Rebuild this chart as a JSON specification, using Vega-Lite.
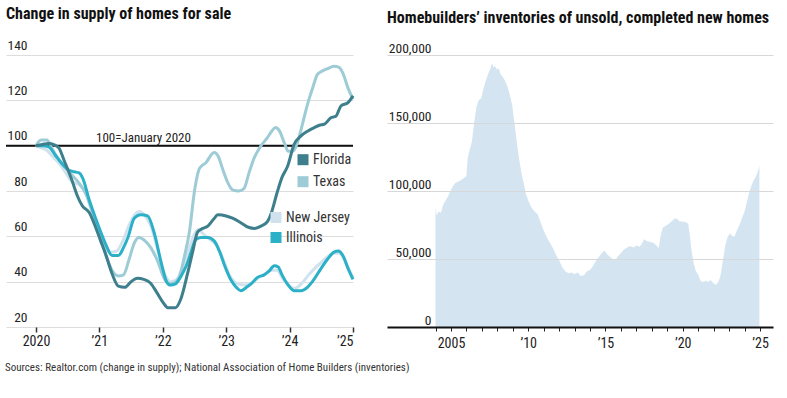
{
  "$schema": "https://vega.github.io/schema/vega-lite/v6.json",
  "background": "white",
  "padding": {"left": 5, "top": 6, "right": 15, "bottom": 10},
  "bounds": "flush",
  "spacing": 34,
  "title": {"text": "Sources: Realtor.com (change in supply); National Association of Home Builders (inventories)", "orient": "bottom", "anchor": "start", "fontSize": 11, "fontWeight": "normal", "font": "Liberation Sans Narrow, Roboto Condensed, DejaVu Sans Condensed, sans-serif", "color": "#333", "offset": 12},
  "config": {"view": {"stroke": null}, "font": "Liberation Sans Narrow, Roboto Condensed, DejaVu Sans Condensed, sans-serif"},
  "datasets": {
    "supply": [
      {"s":"Florida","t":2020.0,"v":100},{"s":"Florida","t":2020.1,"v":100.5},{"s":"Florida","t":2020.2,"v":101},{"s":"Florida","t":2020.28,"v":100.5},{"s":"Florida","t":2020.36,"v":99},{"s":"Florida","t":2020.45,"v":93},{"s":"Florida","t":2020.57,"v":84.5},{"s":"Florida","t":2020.65,"v":78},{"s":"Florida","t":2020.73,"v":73.5},{"s":"Florida","t":2020.84,"v":70.5},{"s":"Florida","t":2020.94,"v":64},{"s":"Florida","t":2021.02,"v":58},{"s":"Florida","t":2021.1,"v":52},{"s":"Florida","t":2021.2,"v":43.5},{"s":"Florida","t":2021.3,"v":38},{"s":"Florida","t":2021.4,"v":37.5},{"s":"Florida","t":2021.5,"v":40},{"s":"Florida","t":2021.6,"v":41.5},{"s":"Florida","t":2021.7,"v":41},{"s":"Florida","t":2021.8,"v":39.5},{"s":"Florida","t":2021.9,"v":35.5},{"s":"Florida","t":2022.0,"v":31},{"s":"Florida","t":2022.08,"v":28.5},{"s":"Florida","t":2022.2,"v":28.5},{"s":"Florida","t":2022.28,"v":32},{"s":"Florida","t":2022.39,"v":43.5},{"s":"Florida","t":2022.47,"v":53},{"s":"Florida","t":2022.55,"v":62},{"s":"Florida","t":2022.63,"v":63.5},{"s":"Florida","t":2022.71,"v":64.5},{"s":"Florida","t":2022.8,"v":67.5},{"s":"Florida","t":2022.87,"v":69.5},{"s":"Florida","t":2023.0,"v":69},{"s":"Florida","t":2023.1,"v":68},{"s":"Florida","t":2023.23,"v":66},{"s":"Florida","t":2023.35,"v":64},{"s":"Florida","t":2023.45,"v":63.5},{"s":"Florida","t":2023.55,"v":64.5},{"s":"Florida","t":2023.65,"v":66.5},{"s":"Florida","t":2023.72,"v":71},{"s":"Florida","t":2023.8,"v":79},{"s":"Florida","t":2023.88,"v":86},{"s":"Florida","t":2023.97,"v":91},{"s":"Florida","t":2024.07,"v":100.5},{"s":"Florida","t":2024.18,"v":104.3},{"s":"Florida","t":2024.29,"v":106.5},{"s":"Florida","t":2024.39,"v":108},{"s":"Florida","t":2024.47,"v":109},{"s":"Florida","t":2024.55,"v":109.5},{"s":"Florida","t":2024.65,"v":112.3},{"s":"Florida","t":2024.73,"v":113},{"s":"Florida","t":2024.81,"v":117.5},{"s":"Florida","t":2024.92,"v":119},{"s":"Florida","t":2025.0,"v":122},
      {"s":"Texas","t":2020.0,"v":100},{"s":"Texas","t":2020.08,"v":102.5},{"s":"Texas","t":2020.17,"v":102.5},{"s":"Texas","t":2020.25,"v":99},{"s":"Texas","t":2020.33,"v":95},{"s":"Texas","t":2020.45,"v":91},{"s":"Texas","t":2020.57,"v":87},{"s":"Texas","t":2020.68,"v":83.5},{"s":"Texas","t":2020.8,"v":78},{"s":"Texas","t":2020.9,"v":70},{"s":"Texas","t":2021.0,"v":61},{"s":"Texas","t":2021.1,"v":52},{"s":"Texas","t":2021.2,"v":45},{"s":"Texas","t":2021.3,"v":42.5},{"s":"Texas","t":2021.38,"v":43},{"s":"Texas","t":2021.47,"v":50},{"s":"Texas","t":2021.55,"v":57},{"s":"Texas","t":2021.62,"v":59.5},{"s":"Texas","t":2021.72,"v":58},{"s":"Texas","t":2021.81,"v":55},{"s":"Texas","t":2021.92,"v":49},{"s":"Texas","t":2022.02,"v":41.5},{"s":"Texas","t":2022.1,"v":39},{"s":"Texas","t":2022.18,"v":39.5},{"s":"Texas","t":2022.26,"v":42},{"s":"Texas","t":2022.34,"v":51},{"s":"Texas","t":2022.42,"v":62},{"s":"Texas","t":2022.5,"v":80},{"s":"Texas","t":2022.58,"v":90},{"s":"Texas","t":2022.68,"v":92.5},{"s":"Texas","t":2022.81,"v":97},{"s":"Texas","t":2022.88,"v":95},{"s":"Texas","t":2022.94,"v":90},{"s":"Texas","t":2023.02,"v":84},{"s":"Texas","t":2023.1,"v":80.5},{"s":"Texas","t":2023.2,"v":80},{"s":"Texas","t":2023.28,"v":81},{"s":"Texas","t":2023.36,"v":88},{"s":"Texas","t":2023.44,"v":94.5},{"s":"Texas","t":2023.55,"v":100},{"s":"Texas","t":2023.65,"v":103.5},{"s":"Texas","t":2023.72,"v":106.5},{"s":"Texas","t":2023.78,"v":108},{"s":"Texas","t":2023.84,"v":106.5},{"s":"Texas","t":2023.92,"v":101},{"s":"Texas","t":2023.98,"v":97.5},{"s":"Texas","t":2024.05,"v":97.5},{"s":"Texas","t":2024.12,"v":101},{"s":"Texas","t":2024.18,"v":107},{"s":"Texas","t":2024.29,"v":119},{"s":"Texas","t":2024.37,"v":126},{"s":"Texas","t":2024.44,"v":131.5},{"s":"Texas","t":2024.52,"v":133},{"s":"Texas","t":2024.6,"v":134},{"s":"Texas","t":2024.7,"v":135},{"s":"Texas","t":2024.78,"v":134.5},{"s":"Texas","t":2024.84,"v":132},{"s":"Texas","t":2024.92,"v":125.5},{"s":"Texas","t":2025.0,"v":120.5},
      {"s":"Illinois","t":2020.0,"v":100},{"s":"Illinois","t":2020.1,"v":100},{"s":"Illinois","t":2020.2,"v":99.5},{"s":"Illinois","t":2020.3,"v":96},{"s":"Illinois","t":2020.41,"v":92},{"s":"Illinois","t":2020.5,"v":89.5},{"s":"Illinois","t":2020.6,"v":88.5},{"s":"Illinois","t":2020.68,"v":88},{"s":"Illinois","t":2020.74,"v":85.5},{"s":"Illinois","t":2020.84,"v":76},{"s":"Illinois","t":2020.94,"v":68},{"s":"Illinois","t":2021.02,"v":62},{"s":"Illinois","t":2021.1,"v":56.5},{"s":"Illinois","t":2021.2,"v":51.5},{"s":"Illinois","t":2021.3,"v":51.5},{"s":"Illinois","t":2021.38,"v":55},{"s":"Illinois","t":2021.45,"v":59.5},{"s":"Illinois","t":2021.55,"v":68},{"s":"Illinois","t":2021.65,"v":69.5},{"s":"Illinois","t":2021.76,"v":69},{"s":"Illinois","t":2021.87,"v":61},{"s":"Illinois","t":2021.97,"v":49},{"s":"Illinois","t":2022.06,"v":40},{"s":"Illinois","t":2022.12,"v":38.5},{"s":"Illinois","t":2022.2,"v":39},{"s":"Illinois","t":2022.29,"v":42.5},{"s":"Illinois","t":2022.37,"v":47},{"s":"Illinois","t":2022.44,"v":52.5},{"s":"Illinois","t":2022.52,"v":58.5},{"s":"Illinois","t":2022.6,"v":59.5},{"s":"Illinois","t":2022.71,"v":59.5},{"s":"Illinois","t":2022.81,"v":58},{"s":"Illinois","t":2022.9,"v":53},{"s":"Illinois","t":2022.97,"v":47.5},{"s":"Illinois","t":2023.08,"v":40.5},{"s":"Illinois","t":2023.16,"v":37.5},{"s":"Illinois","t":2023.23,"v":36},{"s":"Illinois","t":2023.32,"v":37.5},{"s":"Illinois","t":2023.41,"v":39.5},{"s":"Illinois","t":2023.5,"v":42},{"s":"Illinois","t":2023.6,"v":43},{"s":"Illinois","t":2023.67,"v":44.5},{"s":"Illinois","t":2023.76,"v":47},{"s":"Illinois","t":2023.82,"v":46.5},{"s":"Illinois","t":2023.88,"v":43},{"s":"Illinois","t":2023.97,"v":38.8},{"s":"Illinois","t":2024.07,"v":36},{"s":"Illinois","t":2024.18,"v":36},{"s":"Illinois","t":2024.28,"v":37.5},{"s":"Illinois","t":2024.36,"v":40},{"s":"Illinois","t":2024.5,"v":46},{"s":"Illinois","t":2024.6,"v":50},{"s":"Illinois","t":2024.7,"v":53},{"s":"Illinois","t":2024.77,"v":53.5},{"s":"Illinois","t":2024.84,"v":51.5},{"s":"Illinois","t":2024.92,"v":46},{"s":"Illinois","t":2025.0,"v":41},
      {"s":"New Jersey","t":2020.0,"v":100},{"s":"New Jersey","t":2020.08,"v":99},{"s":"New Jersey","t":2020.17,"v":98},{"s":"New Jersey","t":2020.27,"v":95},{"s":"New Jersey","t":2020.37,"v":92},{"s":"New Jersey","t":2020.47,"v":88},{"s":"New Jersey","t":2020.57,"v":84},{"s":"New Jersey","t":2020.67,"v":83},{"s":"New Jersey","t":2020.77,"v":80},{"s":"New Jersey","t":2020.87,"v":72},{"s":"New Jersey","t":2020.97,"v":63},{"s":"New Jersey","t":2021.07,"v":56},{"s":"New Jersey","t":2021.17,"v":53},{"s":"New Jersey","t":2021.27,"v":53.5},{"s":"New Jersey","t":2021.37,"v":58},{"s":"New Jersey","t":2021.47,"v":65},{"s":"New Jersey","t":2021.57,"v":70},{"s":"New Jersey","t":2021.63,"v":71},{"s":"New Jersey","t":2021.72,"v":69},{"s":"New Jersey","t":2021.82,"v":64},{"s":"New Jersey","t":2021.92,"v":54},{"s":"New Jersey","t":2022.02,"v":44},{"s":"New Jersey","t":2022.12,"v":40},{"s":"New Jersey","t":2022.22,"v":41},{"s":"New Jersey","t":2022.32,"v":47},{"s":"New Jersey","t":2022.42,"v":55},{"s":"New Jersey","t":2022.5,"v":61},{"s":"New Jersey","t":2022.56,"v":63},{"s":"New Jersey","t":2022.64,"v":61},{"s":"New Jersey","t":2022.75,"v":58.5},{"s":"New Jersey","t":2022.85,"v":56},{"s":"New Jersey","t":2022.95,"v":50},{"s":"New Jersey","t":2023.05,"v":43},{"s":"New Jersey","t":2023.15,"v":39.5},{"s":"New Jersey","t":2023.28,"v":38.5},{"s":"New Jersey","t":2023.38,"v":39},{"s":"New Jersey","t":2023.5,"v":41.5},{"s":"New Jersey","t":2023.62,"v":43.5},{"s":"New Jersey","t":2023.72,"v":45},{"s":"New Jersey","t":2023.8,"v":45},{"s":"New Jersey","t":2023.9,"v":41},{"s":"New Jersey","t":2024.0,"v":38},{"s":"New Jersey","t":2024.08,"v":37},{"s":"New Jersey","t":2024.2,"v":39.5},{"s":"New Jersey","t":2024.3,"v":43},{"s":"New Jersey","t":2024.4,"v":46},{"s":"New Jersey","t":2024.5,"v":48.5},{"s":"New Jersey","t":2024.6,"v":51},{"s":"New Jersey","t":2024.7,"v":52.5},{"s":"New Jersey","t":2024.78,"v":52.5},{"s":"New Jersey","t":2024.86,"v":50},{"s":"New Jersey","t":2024.94,"v":45},{"s":"New Jersey","t":2025.0,"v":42}
    ],
    "inventory": [
      {"t":2004.0,"v":88000},{"t":2004.08,"v":82000},{"t":2004.2,"v":85000},{"t":2004.35,"v":84000},{"t":2004.5,"v":90000},{"t":2004.65,"v":93000},{"t":2004.8,"v":96000},{"t":2005.0,"v":101000},{"t":2005.15,"v":104000},{"t":2005.3,"v":106000},{"t":2005.5,"v":107000},{"t":2005.7,"v":108500},{"t":2005.9,"v":110000},{"t":2006.0,"v":111000},{"t":2006.08,"v":124000},{"t":2006.2,"v":130000},{"t":2006.35,"v":136000},{"t":2006.5,"v":150000},{"t":2006.65,"v":162000},{"t":2006.8,"v":167000},{"t":2006.95,"v":168000},{"t":2007.1,"v":175000},{"t":2007.25,"v":181000},{"t":2007.4,"v":186000},{"t":2007.55,"v":190000},{"t":2007.65,"v":194000},{"t":2007.75,"v":191000},{"t":2007.85,"v":192000},{"t":2007.95,"v":189500},{"t":2008.1,"v":190000},{"t":2008.2,"v":186000},{"t":2008.35,"v":184000},{"t":2008.5,"v":181000},{"t":2008.65,"v":177000},{"t":2008.8,"v":171000},{"t":2008.95,"v":164000},{"t":2009.1,"v":151000},{"t":2009.25,"v":137000},{"t":2009.4,"v":124000},{"t":2009.55,"v":114000},{"t":2009.7,"v":106000},{"t":2009.85,"v":98000},{"t":2010.0,"v":93000},{"t":2010.2,"v":88000},{"t":2010.4,"v":85000},{"t":2010.6,"v":83000},{"t":2010.8,"v":77000},{"t":2011.0,"v":71000},{"t":2011.2,"v":66000},{"t":2011.4,"v":62000},{"t":2011.6,"v":58000},{"t":2011.8,"v":53000},{"t":2012.0,"v":49000},{"t":2012.2,"v":44000},{"t":2012.4,"v":41000},{"t":2012.6,"v":39500},{"t":2012.8,"v":40000},{"t":2013.0,"v":39000},{"t":2013.2,"v":40000},{"t":2013.4,"v":37500},{"t":2013.6,"v":38000},{"t":2013.8,"v":41000},{"t":2014.0,"v":42000},{"t":2014.2,"v":45000},{"t":2014.4,"v":49000},{"t":2014.6,"v":52000},{"t":2014.8,"v":55000},{"t":2014.95,"v":56000},{"t":2015.1,"v":53500},{"t":2015.3,"v":51500},{"t":2015.5,"v":49500},{"t":2015.65,"v":49000},{"t":2015.8,"v":52000},{"t":2016.0,"v":54500},{"t":2016.2,"v":57000},{"t":2016.4,"v":58500},{"t":2016.6,"v":59500},{"t":2016.8,"v":58500},{"t":2017.0,"v":60000},{"t":2017.2,"v":59000},{"t":2017.35,"v":61000},{"t":2017.5,"v":64500},{"t":2017.7,"v":63000},{"t":2017.9,"v":62500},{"t":2018.1,"v":62000},{"t":2018.3,"v":60000},{"t":2018.45,"v":58000},{"t":2018.55,"v":66000},{"t":2018.7,"v":73000},{"t":2018.9,"v":74500},{"t":2019.1,"v":76000},{"t":2019.3,"v":78000},{"t":2019.5,"v":80000},{"t":2019.65,"v":79500},{"t":2019.8,"v":77500},{"t":2020.0,"v":77500},{"t":2020.2,"v":77000},{"t":2020.35,"v":76000},{"t":2020.45,"v":68000},{"t":2020.55,"v":58000},{"t":2020.7,"v":47000},{"t":2020.85,"v":41000},{"t":2021.0,"v":38500},{"t":2021.15,"v":34000},{"t":2021.3,"v":33000},{"t":2021.5,"v":34000},{"t":2021.65,"v":33000},{"t":2021.8,"v":34500},{"t":2022.0,"v":32000},{"t":2022.15,"v":31000},{"t":2022.3,"v":33000},{"t":2022.45,"v":38000},{"t":2022.6,"v":49000},{"t":2022.75,"v":60000},{"t":2022.9,"v":66000},{"t":2023.05,"v":69000},{"t":2023.2,"v":67000},{"t":2023.35,"v":66500},{"t":2023.5,"v":71000},{"t":2023.65,"v":74500},{"t":2023.8,"v":79000},{"t":2024.0,"v":85000},{"t":2024.15,"v":92000},{"t":2024.3,"v":99000},{"t":2024.45,"v":104000},{"t":2024.6,"v":108000},{"t":2024.75,"v":111000},{"t":2024.85,"v":114000},{"t":2024.96,"v":118500}
    ]
  },
  "hconcat": [
    {
      "width": 347,
      "height": 272,
      "title": {"text": "Change in supply of homes for sale", "anchor": "start", "frame": "group", "fontSize": 16, "fontWeight": "bold", "color": "#111", "offset": 16},
      "layer": [
        {
          "data": {"values": [{}]},
          "mark": {"type": "rule", "color": "#111", "strokeWidth": 2},
          "encoding": {"y": {"datum": 100, "type": "quantitative"}}
        },
        {
          "data": {"name": "supply"},
          "transform": [{"filter": "datum.s == 'New Jersey'"}],
          "mark": {"type": "line", "strokeWidth": 3, "interpolate": "monotone"},
          "encoding": {
            "x": {"field": "t", "type": "quantitative", "scale": {"domain": [2019.527, 2025], "nice": false, "zero": false},
              "axis": {"title": null, "values": [2020, 2021, 2022, 2023, 2024, 2025], "labelExpr": "datum.value == 2020 ? '2020' : '’' + substring(toString(datum.value), 2)", "grid": false, "domain": false, "ticks": true, "tickSize": 5, "tickColor": "#333", "tickWidth": 1.5, "labelPadding": 2, "labelFontSize": 14, "labelColor": "#222"}},
            "y": {"field": "v", "type": "quantitative", "scale": {"domain": [20, 140], "nice": false, "zero": false},
              "axis": {"title": null, "values": [20, 40, 60, 80, 100, 120, 140], "grid": true, "gridColor": "#dddddd", "domain": false, "ticks": false, "tickSize": 0, "labelAlign": "right", "labelPadding": -21, "labelBaseline": "alphabetic", "labelOffset": -6, "labelFontSize": 13.5, "labelColor": "#222"}},
            "stroke": {"field": "s", "type": "nominal", "scale": {"domain": ["New Jersey", "Illinois"], "range": ["#cfe2ee", "#2bb0c8"]},
              "legend": {"title": null, "orient": "none", "legendX": 263, "legendY": 155.5, "symbolType": "square", "symbolSize": 121, "labelFontSize": 14, "labelColor": "#333", "labelOffset": 3, "rowPadding": 6,
                "encode": {"symbols": {"update": {"fill": {"scale": "stroke", "field": "value"}, "stroke": {"value": "transparent"}, "strokeWidth": {"value": 0}, "shape": {"value": "square"}, "size": {"value": 121}}}}}}
          }
        },
        {
          "data": {"name": "supply"},
          "transform": [{"filter": "datum.s == 'Texas'"}],
          "mark": {"type": "line", "strokeWidth": 3, "interpolate": "monotone"},
          "encoding": {
            "x": {"field": "t", "type": "quantitative"},
            "y": {"field": "v", "type": "quantitative"},
            "color": {"field": "s", "type": "nominal", "scale": {"domain": ["Florida", "Texas"], "range": ["#3d7f8c", "#9dcbd6"]},
              "legend": {"title": null, "orient": "none", "legendX": 290, "legendY": 97.7, "symbolType": "square", "symbolSize": 121, "labelFontSize": 14, "labelColor": "#333", "labelOffset": 3, "rowPadding": 8,
                "encode": {"symbols": {"update": {"fill": {"scale": "color", "field": "value"}, "stroke": {"value": "transparent"}, "strokeWidth": {"value": 0}, "shape": {"value": "square"}, "size": {"value": 121}}}}}}
          }
        },
        {
          "data": {"name": "supply"},
          "transform": [{"filter": "datum.s == 'Illinois'"}],
          "mark": {"type": "line", "strokeWidth": 3, "interpolate": "monotone"},
          "encoding": {
            "x": {"field": "t", "type": "quantitative"},
            "y": {"field": "v", "type": "quantitative"},
            "stroke": {"field": "s", "type": "nominal"}
          }
        },
        {
          "data": {"name": "supply"},
          "transform": [{"filter": "datum.s == 'Florida'"}],
          "mark": {"type": "line", "strokeWidth": 3, "interpolate": "monotone"},
          "encoding": {
            "x": {"field": "t", "type": "quantitative"},
            "y": {"field": "v", "type": "quantitative"},
            "color": {"field": "s", "type": "nominal"}
          }
        },
        {
          "data": {"values": [{"label": "100=January 2020"}]},
          "mark": {"type": "text", "align": "left", "baseline": "alphabetic", "dy": -4, "fontSize": 13, "color": "#222"},
          "encoding": {
            "x": {"datum": 2020.946, "type": "quantitative"},
            "y": {"datum": 100, "type": "quantitative"},
            "text": {"field": "label"}
          }
        }
      ]
    },
    {
      "width": 386,
      "height": 272,
      "title": {"text": "Homebuilders’ inventories of unsold, completed new homes", "anchor": "start", "frame": "group", "fontSize": 16, "fontWeight": "bold", "color": "#111", "offset": 16},
      "data": {"name": "inventory"},
      "mark": {"type": "area", "color": "#d4e5f1", "interpolate": "linear"},
      "encoding": {
        "x": {"field": "t", "type": "quantitative", "scale": {"domain": [2000.86, 2025.84], "nice": false, "zero": false},
          "axis": {"title": null, "values": [2004, 2005, 2006, 2007, 2008, 2009, 2010, 2011, 2012, 2013, 2014, 2015, 2016, 2017, 2018, 2019, 2020, 2021, 2022, 2023, 2024, 2025], "labelExpr": "datum.value % 5 != 0 ? '' : (datum.value == 2005 ? '2005' : '’' + substring(toString(datum.value), 2))", "grid": false, "domain": true, "domainColor": "#111", "domainWidth": 2, "ticks": true, "tickSize": 4, "tickColor": "#222", "tickWidth": 1, "labelPadding": 5, "labelFontSize": 14, "labelColor": "#222", "zindex": 1}},
        "y": {"field": "v", "type": "quantitative", "scale": {"domain": [0, 200000], "nice": false},
          "axis": {"title": null, "values": [0, 50000, 100000, 150000, 200000], "format": ",.0f", "grid": true, "gridColor": "#d8d8d8", "domain": false, "ticks": false, "tickSize": 0, "labelAlign": "right", "labelPadding": -44, "labelBaseline": "alphabetic", "labelOffset": -2.5, "labelFontSize": 13.5, "labelColor": "#222", "zindex": 1}}
      }
    }
  ]
}
